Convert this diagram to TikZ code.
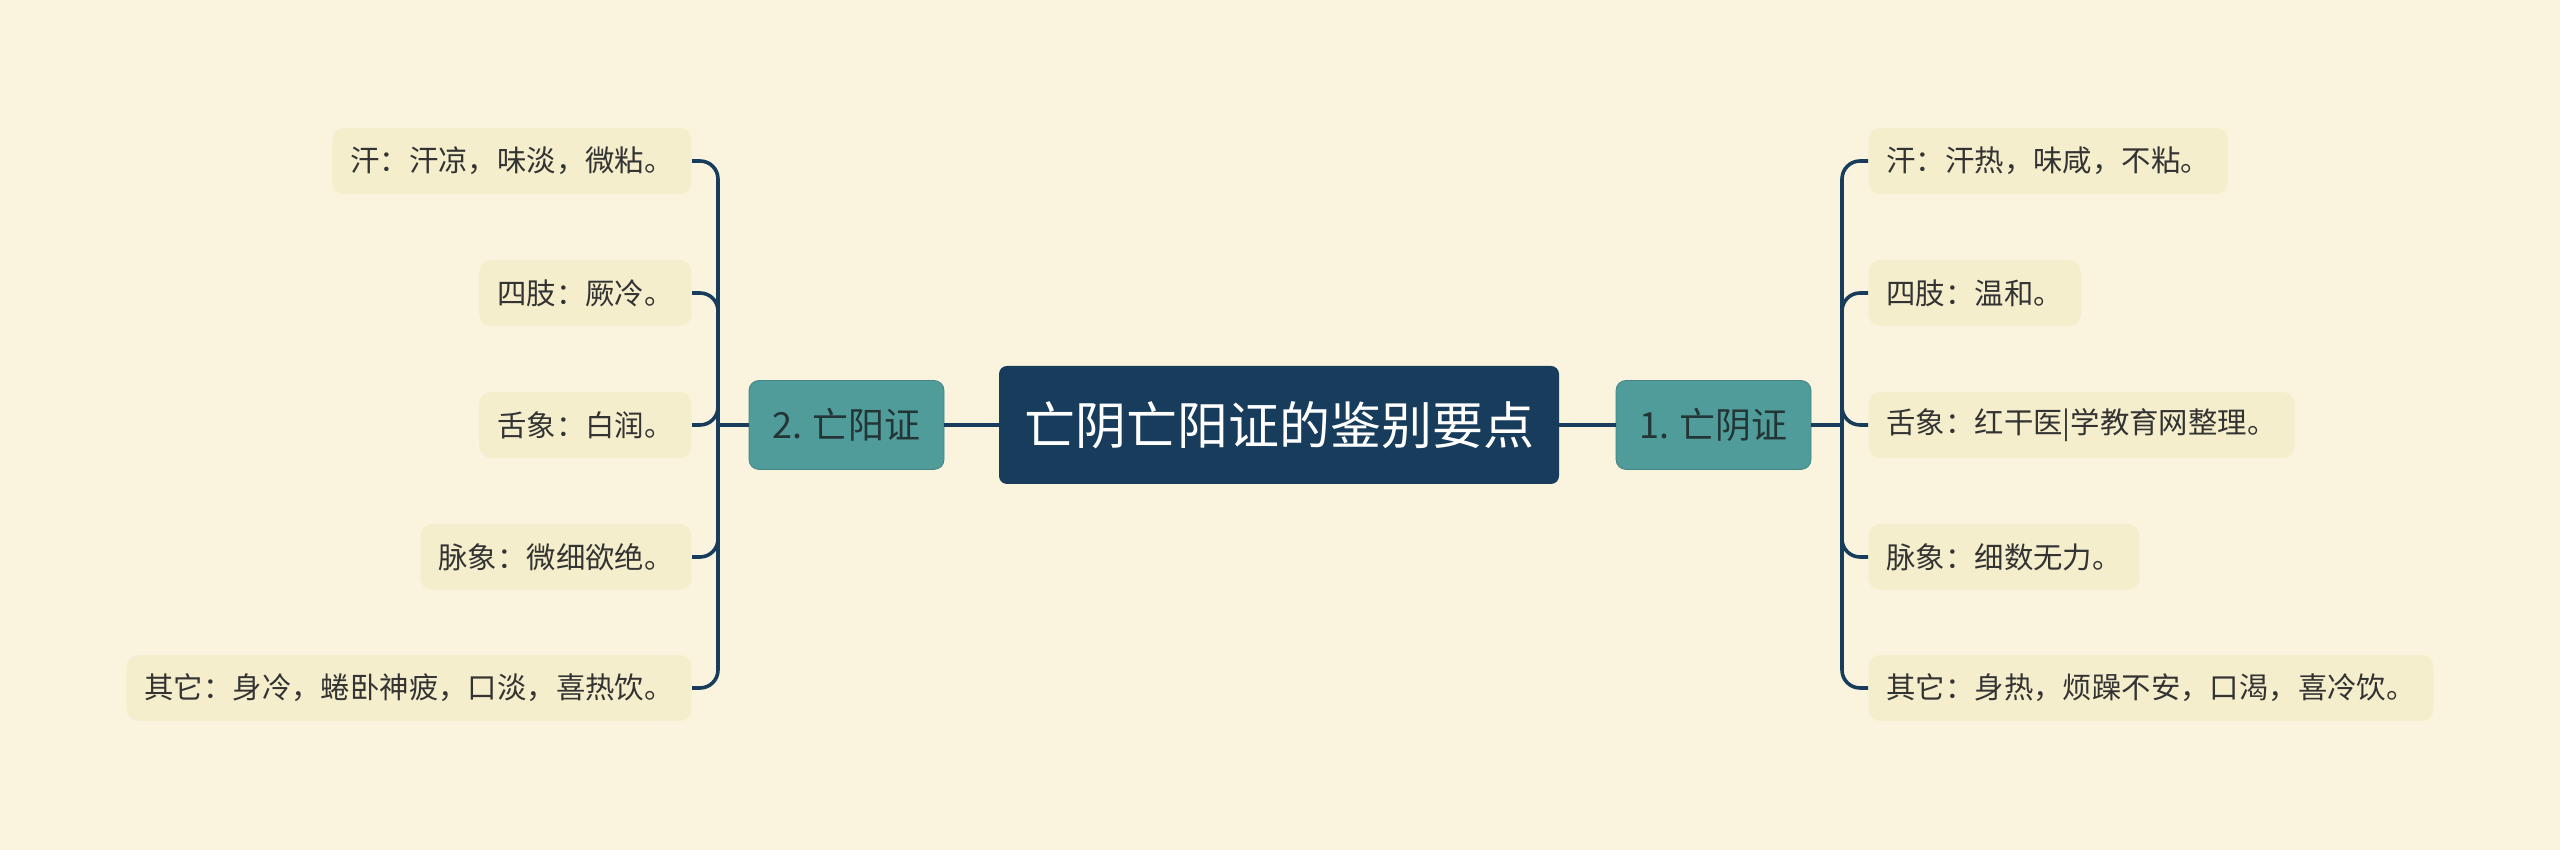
\documentclass[tikz,border=0pt]{standalone}
\usepackage{fontspec}
\setmainfont{Noto Sans CJK SC}
\definecolor{bgc}{HTML}{FAF4DF}
\definecolor{navy}{HTML}{173C5C}
\definecolor{teal}{HTML}{4F9C9B}
\definecolor{leaff}{HTML}{F5EECC}
\definecolor{txt}{HTML}{333333}
\definecolor{subtxt}{HTML}{243536}
\tikzset{
  rootbox/.style={fill=navy, rounded corners=4pt, minimum width=280pt, minimum height=59pt,
    text=white, font=\fontsize{25.5}{30}\selectfont, inner sep=0pt},
  subbox/.style={fill=teal, draw=teal!85!black, line width=0.4pt, rounded corners=5pt, minimum width=97.5pt, minimum height=44.5pt,
    text=subtxt, font=\fontsize{18}{22}\selectfont, inner sep=0pt},
  leafbox/.style={fill=leaff, rounded corners=6pt, minimum height=33pt, inner xsep=9pt, inner ysep=0pt,
    text=txt, font=\fontsize{14.7}{17}\selectfont},
  conn/.style={draw=navy, line width=1.8pt},
  busc/.style={conn, rounded corners=9pt}
}
\begin{document}
\begin{tikzpicture}[x=1pt,y=1pt]
\fill[bgc] (0,0) rectangle (1280,425);
\useasboundingbox (0,0) rectangle (1280,425);

\node[rootbox] (root) at (639.5,212.5) {亡阴亡阳证的鉴别要点};
\node[subbox] (r0) at (856.75,212.5) {1. 亡阴证};
\node[subbox] (l0) at (423.25,212.5) {2. 亡阳证};

\node[leafbox, anchor=west] (r1) at (934,344.5) {汗：汗热，味咸，不粘。};
\node[leafbox, anchor=west] (r2) at (934,278.5) {四肢：温和。};
\node[leafbox, anchor=west] (r3) at (934,212.5) {舌象：红干医|学教育网整理。};
\node[leafbox, anchor=west] (r4) at (934,146.5) {脉象：细数无力。};
\node[leafbox, anchor=west] (r5) at (934,81) {其它：身热，烦躁不安，口渴，喜冷饮。};

\node[leafbox, anchor=east] (l1) at (346,344.5) {汗：汗凉，味淡，微粘。};
\node[leafbox, anchor=east] (l2) at (346,278.5) {四肢：厥冷。};
\node[leafbox, anchor=east] (l3) at (346,212.5) {舌象：白润。};
\node[leafbox, anchor=east] (l4) at (346,146.5) {脉象：微细欲绝。};
\node[leafbox, anchor=east] (l5) at (346,81) {其它：身冷，蜷卧神疲，口淡，喜热饮。};

\coordinate (busR) at (921,212.5);
\coordinate (busL) at (359,212.5);

\draw[conn] (root.east) -- (r0.west);
\draw[conn] (root.west) -- (l0.east);
\draw[conn] (r0.east) -- (busR);
\draw[conn] (l0.west) -- (busL);
\foreach \n in {r1,r2,r3,r4,r5} {\draw[busc] (busR) |- (\n.west);}
\foreach \n in {l1,l2,l3,l4,l5} {\draw[busc] (busL) |- (\n.east);}
\end{tikzpicture}
\end{document}
